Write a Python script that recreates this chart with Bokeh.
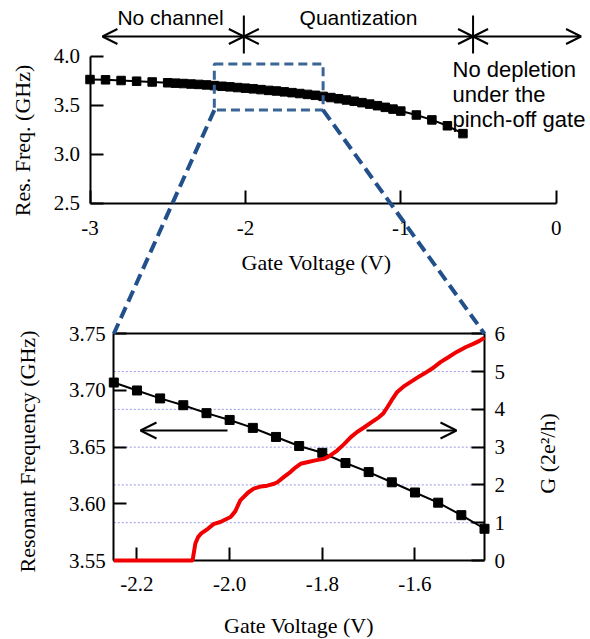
import math
from bokeh.plotting import figure
from bokeh.models import (Range1d, LinearAxis, FixedTicker, PrintfTickFormatter,
                          Arrow, OpenHead, Label)
from bokeh.core.properties import value
from bokeh.embed import file_html
from bokeh.resources import INLINE

# ---------------- data ----------------
# overview: resonant frequency vs gate voltage
top_v = [-3.00, -2.90, -2.80, -2.70, -2.60, -2.50, -2.45, -2.40, -2.35, -2.30,
         -2.25, -2.20, -2.15, -2.10, -2.05, -2.00, -1.95, -1.90, -1.85, -1.80,
         -1.75, -1.70, -1.65, -1.60, -1.55, -1.50, -1.45, -1.40, -1.35, -1.30,
         -1.25, -1.20, -1.15, -1.10, -1.05, -1.00, -0.90, -0.80, -0.70, -0.60]
top_f = [3.762, 3.759, 3.752, 3.745, 3.737, 3.729, 3.725, 3.721, 3.716, 3.712,
         3.707, 3.700, 3.693, 3.687, 3.680, 3.674, 3.667, 3.659, 3.651, 3.645,
         3.636, 3.628, 3.619, 3.610, 3.601, 3.590, 3.578, 3.566, 3.553, 3.540,
         3.526, 3.511, 3.495, 3.478, 3.460, 3.440, 3.400, 3.350, 3.290, 3.210]

# zoom: resonant frequency (left axis)
zoom_v = [-2.25, -2.20, -2.15, -2.10, -2.05, -2.00, -1.95, -1.90, -1.85,
          -1.80, -1.75, -1.70, -1.65, -1.60, -1.55, -1.50, -1.45]
zoom_f = [3.707, 3.700, 3.693, 3.687, 3.680, 3.674, 3.667, 3.659, 3.651,
          3.645, 3.636, 3.628, 3.619, 3.610, 3.601, 3.590, 3.578]

# zoom: conductance G (right axis, units of 2e^2/h)
g_v = [-2.250, -2.080, -2.074, -2.068, -2.062, -2.047, -2.034, -2.020, -1.998,
       -1.988, -1.977, -1.960, -1.948, -1.932, -1.919, -1.904, -1.897, -1.882,
       -1.869, -1.858, -1.847, -1.833, -1.815, -1.797, -1.785, -1.768, -1.753,
       -1.739, -1.725, -1.710, -1.695, -1.678, -1.668, -1.660, -1.650, -1.639,
       -1.625, -1.610, -1.595, -1.581, -1.563, -1.545, -1.528, -1.510, -1.490,
       -1.473, -1.460, -1.450]
g_val = [0.00, 0.00, 0.45, 0.62, 0.71, 0.84, 0.97, 1.02, 1.15,
         1.30, 1.59, 1.80, 1.90, 1.96, 1.98, 2.03, 2.07, 2.22,
         2.34, 2.46, 2.56, 2.60, 2.65, 2.69, 2.76, 2.91, 3.08,
         3.26, 3.40, 3.52, 3.65, 3.79, 3.90, 4.05, 4.25, 4.45,
         4.60, 4.72, 4.84, 4.94, 5.08, 5.25, 5.38, 5.52, 5.65,
         5.74, 5.82, 5.90]

top_xticks = [-3, -2, -1, 0]
top_yticks = [2.5, 3.0, 3.5, 4.0]
zoom_xticks = [-2.2, -2.0, -1.8, -1.6]
zoom_yticks = [3.55, 3.60, 3.65, 3.70, 3.75]
g_ticks = [0, 1, 2, 3, 4, 5, 6]
g_grid = [1, 2, 3, 4, 5]

# regime boundaries (gate voltage) and zoom window
bound_v = [-2.01, -0.535]
regime_ends = [-2.92, 0.16]
box_v = [-2.2, -1.5]
box_f = [3.45, 3.92]

T_XR, T_YR = (-3.0, 0.0), (2.5, 4.0)
B_XR, B_YR, B_GR = (-2.25, -1.45), (3.55, 3.75), (0.0, 6.0)

# ---------------- layout / style ----------------
W, H = 590, 639
SERIF = "Liberation Serif"
SANS = "Liberation Sans"
BLUE_BOX = "#3a6596"
BLUE_LINK = "#22508a"
TICK_FS = "21px"

# pixel anchors (value, pixel) for each scale
TX = ((T_XR[0], 89.5), (T_XR[1], 555.7))
TY = ((T_YR[0], 202.7), (T_YR[1], 55.7))
BX = ((B_XR[0], 113.3), (B_XR[1], 484.0))
BY = ((B_YR[0], 560.0), (B_YR[1], 333.3))
BG = ((B_GR[0], 560.0), (B_GR[1], 333.3))


def v2p(anchor, v):
    (v0, p0), (v1, p1) = anchor
    return p0 + (v - v0) * (p1 - p0) / (v1 - v0)


def p2v(anchor, p):
    (v0, p0), (v1, p1) = anchor
    return v0 + (p - p0) * (v1 - v0) / (p1 - p0)


def xrange_for(anchor):
    return Range1d(p2v(anchor, 0), p2v(anchor, W))


def yrange_for(anchor):
    return Range1d(p2v(anchor, H), p2v(anchor, 0))


p = figure(width=W, height=H, title=None, output_backend="svg",
           toolbar_location=None, x_range=Range1d(0, W), y_range=Range1d(H, 0),
           x_axis_type=None, y_axis_type=None,
           min_border_left=0, min_border_right=0,
           min_border_top=0, min_border_bottom=0)
p.outline_line_color = None
p.background_fill_color = "white"
p.border_fill_color = "white"
p.extra_x_ranges = {"tx": xrange_for(TX), "bx": xrange_for(BX)}
p.extra_y_ranges = {"ty": yrange_for(TY), "by": yrange_for(BY),
                    "bg": yrange_for(BG)}


def make_axis(xr, yr, loc, bounds, ticks):
    ax = LinearAxis(x_range_name=xr, y_range_name=yr, fixed_location=loc,
                    bounds=bounds, ticker=FixedTicker(ticks=ticks),
                    formatter=PrintfTickFormatter(format="%g"))
    ax.axis_line_width = 2
    ax.axis_line_color = "black"
    ax.major_tick_in = 13
    ax.major_tick_out = 0
    ax.major_tick_line_width = 2
    ax.major_tick_line_color = "black"
    ax.minor_tick_line_color = None
    ax.major_label_text_color = None   # tick labels drawn below in serif
    return ax


def tick_labels(xs, ys, texts, xr, yr, align):
    p.text(x=xs, y=ys, text=texts, x_range_name=xr, y_range_name=yr,
           text_font=value(SERIF), text_font_size=TICK_FS,
           text_color="black", text_align=align, text_baseline="middle")


# overview axes
p.add_layout(make_axis("tx", "ty", T_YR[0], T_XR, top_xticks), "below")
p.add_layout(make_axis("tx", "ty", T_XR[0], T_YR, top_yticks), "left")
# zoom axes (frame: bottom, left, right, top border)
p.add_layout(make_axis("bx", "by", B_YR[0], B_XR, zoom_xticks), "below")
p.add_layout(make_axis("bx", "by", B_XR[0], B_YR, zoom_yticks), "left")
p.add_layout(make_axis("bx", "bg", B_XR[1], B_GR, g_ticks), "right")
p.add_layout(make_axis("bx", "by", B_YR[1], B_XR, []), "above")

# tick labels (placed from the tick values through each scale)
tick_labels(top_xticks, [p2v(TY, v2p(TY, T_YR[0]) + 25)] * len(top_xticks),
            ["%d" % t for t in top_xticks], "tx", "ty", "center")
tick_labels([p2v(TX, v2p(TX, T_XR[0]) - 10)] * len(top_yticks), top_yticks,
            ["%.1f" % t for t in top_yticks], "tx", "ty", "right")
tick_labels(zoom_xticks, [p2v(BY, v2p(BY, B_YR[0]) + 23)] * len(zoom_xticks),
            ["%.1f" % t for t in zoom_xticks], "bx", "by", "center")
tick_labels([p2v(BX, v2p(BX, B_XR[0]) - 8)] * len(zoom_yticks), zoom_yticks,
            ["%.2f" % t for t in zoom_yticks], "bx", "by", "right")
tick_labels([p2v(BX, v2p(BX, B_XR[1]) + 10)] * len(g_ticks), g_ticks,
            ["%d" % t for t in g_ticks], "bx", "bg", "left")

# axis titles
axis_titles = [("Gate Voltage (V)", 316, 262, 0),
               ("Res. Freq. (GHz)", 22, 140, math.pi / 2),
               ("Resonant Frequency (GHz)", 27, 451, math.pi / 2),
               ("G (2e\u00b2/h)", 547, 453, math.pi / 2),
               ("Gate Voltage (V)", 298.5, 625, 0)]
for txt, x, y, ang in axis_titles:
    p.add_layout(Label(x=x, y=y, text=txt, angle=ang, text_font=SERIF,
                       text_font_size="22px", text_align="center",
                       text_baseline="middle", text_color="black"))

# zoom grid (G = 1..5)
p.segment(x0=[B_XR[0]] * len(g_grid), x1=[B_XR[1]] * len(g_grid),
          y0=g_grid, y1=g_grid, x_range_name="bx", y_range_name="bg",
          line_color="#9797e8", line_width=1, line_dash="2 2")

# overview data
p.line(top_v, top_f, x_range_name="tx", y_range_name="ty",
       line_color="black", line_width=2)
p.scatter(top_v, top_f, x_range_name="tx", y_range_name="ty",
          marker="square", size=8.5, color="black")

# zoom data
p.line(zoom_v, zoom_f, x_range_name="bx", y_range_name="by",
       line_color="black", line_width=2)
p.scatter(zoom_v, zoom_f, x_range_name="bx", y_range_name="by",
          marker="square", size=9, color="black")
p.line(g_v, g_val, x_range_name="bx", y_range_name="bg",
       line_color="#f00000", line_width=4, level="overlay")

# zoom window on the overview
p.quad(left=[box_v[0]], right=[box_v[1]], bottom=[box_f[0]], top=[box_f[1]],
       x_range_name="tx", y_range_name="ty", fill_color=None,
       line_color=BLUE_BOX, line_width=3, line_dash="9 5")

# dashed connectors from window to zoom frame corners
x0s, y0s, x1s, y1s = [], [], [], []
for bv, zv in [(box_v[0], B_XR[0]), (box_v[1], B_XR[1])]:
    x0s.append(v2p(TX, bv))
    y0s.append(v2p(TY, box_f[0]))
    x1s.append(v2p(BX, zv))
    y1s.append(v2p(BY, B_YR[1]))
p.segment(x0=x0s, y0=y0s, x1=x1s, y1=y1s, line_color=BLUE_LINK,
          line_width=4, line_dash="12 6", level="overlay")

# regime arrows above the overview
arrow_y = p2v(TY, 36)
bar_top, bar_bot = p2v(TY, 15), p2v(TY, 53)
spans = [(regime_ends[0], bound_v[0]), (bound_v[0], bound_v[1]),
         (bound_v[1], regime_ends[1])]
for a, b in spans:
    p.add_layout(Arrow(x_start=a, y_start=arrow_y, x_end=b, y_end=arrow_y,
                       x_range_name="tx", y_range_name="ty",
                       start=OpenHead(size=15, line_width=2, line_color="black"),
                       end=OpenHead(size=15, line_width=2, line_color="black"),
                       line_width=2, line_color="black"))
for bv in bound_v:
    p.add_layout(Arrow(x_start=bv, y_start=bar_top, x_end=bv, y_end=bar_bot,
                       x_range_name="tx", y_range_name="ty", end=None,
                       line_width=2, line_color="black"))

for txt, x, y in [("No channel", 170, 17), ("Quantization", 358, 17)]:
    p.add_layout(Label(x=x, y=y, text=txt, text_font=SANS,
                       text_font_size="21px", text_align="center",
                       text_baseline="middle", text_color="black"))
for txt, y in [("No depletion", 69), ("under the", 94), ("pinch-off gate", 119)]:
    p.add_layout(Label(x=452, y=y, text=txt, text_font=SANS,
                       text_font_size="22px", text_align="left",
                       text_baseline="middle", text_color="black"))

# direction arrows inside the zoom (left: frequency axis, right: G axis)
arr_f = p2v(BY, 430)
p.add_layout(Arrow(x_start=p2v(BX, 227), y_start=arr_f,
                   x_end=p2v(BX, 140), y_end=arr_f,
                   x_range_name="bx", y_range_name="by",
                   end=OpenHead(size=16, line_width=2, line_color="black"),
                   line_width=2, line_color="black"))
p.add_layout(Arrow(x_start=p2v(BX, 366), y_start=arr_f,
                   x_end=p2v(BX, 456), y_end=arr_f,
                   x_range_name="bx", y_range_name="by",
                   end=OpenHead(size=16, line_width=2, line_color="black"),
                   line_width=2, line_color="black"))

open("out.html", "w").write(file_html(p, INLINE))
